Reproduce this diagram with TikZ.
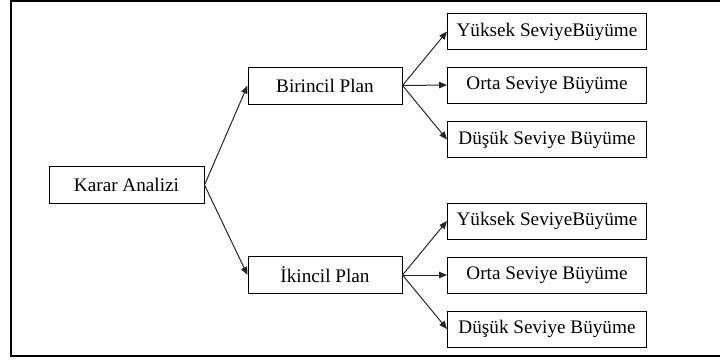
\documentclass[tikz,border=0pt]{standalone}
\usepackage{fontspec}
\setmainfont{Liberation Serif}
\usetikzlibrary{arrows.meta}
\begin{document}
\begin{tikzpicture}[x=1pt,y=-1pt,
  box/.style={draw=black,line width=1pt,inner sep=0pt,font=\fontsize{19.2}{22}\selectfont},
  mainbox/.style={box,minimum width=155pt,minimum height=37pt},
  planbox/.style={box,minimum width=154pt,minimum height=37pt},
  leafbox/.style={box,minimum width=199pt,minimum height=36pt},
  arr/.style={draw=black!85,line width=1pt,-{Triangle[length=8pt,width=6.5pt]}}]
\useasboundingbox (0,0) rectangle (720,360);
\draw[line width=2pt] (725,0.5) -- (11,0.5) -- (11,356) -- (725,356);
\node[mainbox] (ka) at (126.5,185) {Karar Analizi};
\node[planbox] (bp) at (325,85.5) {Birincil Plan};
\node[planbox] (ip) at (325,275) {İkincil Plan};
\node[leafbox] (y1) at (547,31.5) {Yüksek SeviyeBüyüme};
\node[leafbox] (o1) at (547,85) {Orta Seviye Büyüme};
\node[leafbox] (d1) at (547,139.5) {Düşük Seviye Büyüme};
\node[leafbox] (y2) at (547,221) {Yüksek SeviyeBüyüme};
\node[leafbox] (o2) at (547,275) {Orta Seviye Büyüme};
\node[leafbox] (d2) at (547,329) {Düşük Seviye Büyüme};
\draw[arr] (ka.east) -- (bp.west);
\draw[arr] (ka.east) -- (ip.west);
\draw[arr] (bp.east) -- (y1.west);
\draw[arr] (bp.east) -- (o1.west);
\draw[arr] (bp.east) -- (d1.west);
\draw[arr] (ip.east) -- (y2.west);
\draw[arr] (ip.east) -- (o2.west);
\draw[arr] (ip.east) -- (d2.west);
\end{tikzpicture}
\end{document}
